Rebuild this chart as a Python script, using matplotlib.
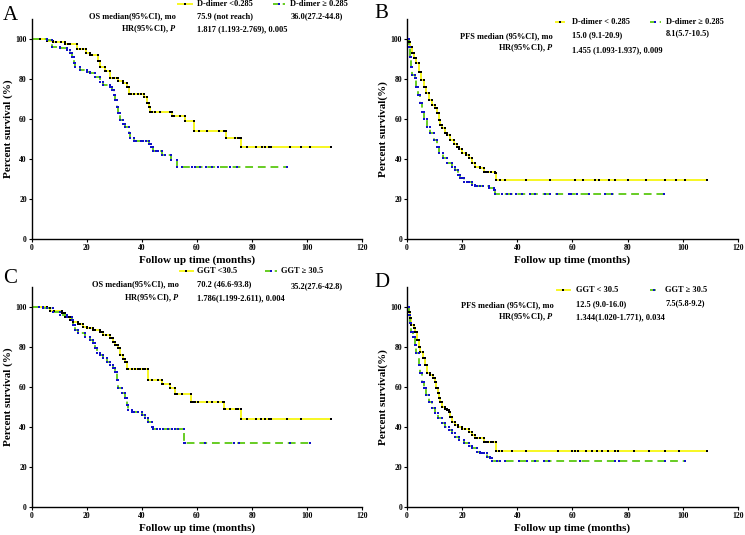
import numpy as np
import matplotlib
matplotlib.use("Agg")
import matplotlib.pyplot as plt

plt.rcParams['font.family'] = ['Liberation Serif', 'DejaVu Serif']
plt.rcParams['font.weight'] = 'bold'
plt.rcParams['mathtext.fontset'] = 'custom'
plt.rcParams['mathtext.it'] = 'Liberation Serif:italic:bold'
plt.rcParams['mathtext.rm'] = 'Liberation Serif:bold'

# ---- data (months, percent survival) ----
# Panel A: OS by D-dimer
a_low_t = [0, 5.5, 7.9, 12.1, 16.4, 19.8, 21.2, 23.9, 24.8, 26.7, 28.5, 31.5, 33, 34.5, 35.2,
           40.8, 41.8, 42.4, 43, 50.9, 55.8, 58.8, 70.7, 76]
a_low_s = [100, 99.2, 98.3, 97.5, 95, 93, 92, 89, 86, 84, 80.5, 79, 78, 76, 72.5,
           71, 68, 66, 63.5, 61.5, 59, 54, 50.5, 46]
a_low_end = 108.6
a_low_cens = [3, 9, 10.5, 13, 14, 17.5, 18.5, 22, 27, 29.5, 30, 31, 36, 37, 38.5, 39.5,
              43.6, 44.8, 46.4, 50.3, 51.5, 53.9, 60.6, 63.6, 67.9, 69.7, 73.9, 74.8, 75.5,
              78, 81.4, 83.5, 84.7, 86.2, 86.7, 93.7, 97.6, 101, 108.6]
a_high_t = [0, 5.5, 7.3, 10.3, 12.7, 14, 14.5, 15.2, 15.8, 17.6, 20, 21.2, 23, 24.8, 26, 28.5,
            29.1, 30, 30.3, 30.9, 31.5, 32.1, 33.1, 33.9, 35.2, 35.8, 37, 42.4, 43.3, 44,
            47.3, 50.5, 52.7]
a_high_s = [100, 99.5, 96.2, 95.7, 94.5, 92.8, 91.2, 87.9, 86.2, 84.5, 83.7, 82.9, 80.9, 78.7,
            77, 76.2, 74.5, 72, 69.5, 66.2, 62.9, 59.6, 57.6, 56.2, 52.9, 50.4, 49.3, 47.6,
            46.3, 44.3, 42.1, 39.6, 36.3]
a_high_end = 92.5
a_high_cens = [38, 39.5, 40.5, 41.5, 45, 46, 48.5, 54.5, 58, 59.3, 61.2, 63.2, 65.5, 67.5,
               72, 74.4, 92.5]

# Panel B: PFS by D-dimer
b_low_t = [0, 0.6, 1.2, 1.8, 2.4, 3.3, 4.2, 5.2, 6, 6.9, 7.9, 9.1, 10.3, 10.9, 11.5, 12.1,
           12.7, 13.7, 14.5, 15.7, 16.9, 18.1, 19, 20, 21.4, 22.4, 23.6, 24.8, 26.6, 27.8,
           31.8, 32.3]
b_low_s = [100, 98.7, 96.2, 92.8, 90.3, 87.9, 83.7, 79.5, 76.2, 72.9, 69.5, 67, 65.4, 62.9,
           59.6, 57.1, 55.4, 53.2, 52.1, 49.6, 47.6, 46.3, 45, 43.3, 42.1, 40.4, 37.9, 36.3,
           35.4, 33.8, 32.9, 29.6]
b_low_end = 108.8
b_low_cens = [28.5, 29.5, 30.3, 33.9, 35.7, 43.2, 52, 60.8, 63.7, 68.3, 69.8, 73.4, 75.3,
              80.2, 86.7, 93.7, 97.6, 101, 108.8]
b_high_t = [0, 0.6, 1, 1.3, 1.8, 2.8, 3.4, 4, 4.8, 5.4, 6, 7.3, 8.5, 9.7, 10.9, 11.7, 12.9,
            14.5, 16.3, 17.5, 18.5, 19.3, 20.6, 21.8, 23.6, 24.8, 29.6, 31.4, 32]
b_high_s = [100, 96.2, 91.2, 86.2, 82, 80.4, 76.2, 72, 67.9, 63.7, 59.9, 56.2, 52.9, 49.6,
            46.3, 42.9, 40.4, 37.9, 36.3, 34.6, 32.1, 30.4, 28.8, 28.5, 27.1, 26.6, 25.5,
            24.6, 22.6]
b_high_end = 93.1
b_high_cens = [20, 22.5, 25.5, 26.5, 27.5, 34.5, 36.3, 37.8, 39.5, 41.7, 44.7, 46.6, 50, 52,
               54.4, 58.7, 59.6, 61.7, 65.9, 71.9, 74.4, 93.1]

# Panel C: OS by GGT
c_low_t = [0, 5.4, 6.6, 10.9, 12.1, 13.9, 15.1, 16.9, 18.7, 20, 22.4, 24.8, 26, 28.4, 29.6,
           30.2, 31.4, 32, 33, 33.9, 34.5, 42.3, 47.2, 50.2, 52, 57.8, 69.9, 75.8]
c_low_s = [100, 99.5, 98, 96.7, 95, 93.4, 92.2, 91.2, 90, 89.2, 88.4, 87.5, 85.9, 84.2, 82.6,
           80.9, 79.2, 75.9, 73.9, 72.6, 68.8, 63.5, 61.3, 59.3, 56.3, 52.3, 48.8, 43.9]
c_low_end = 108.6
c_low_cens = [2.5, 8, 11.5, 13, 14.5, 17.5, 21, 23, 25.5, 27, 29, 31, 35.1, 36.3, 37.5, 38.7,
              39.3, 40.3, 41.1, 43.5, 46, 47.8, 52.6, 54.7, 57.7, 58.6, 59.2, 60.4, 63.5,
              65.5, 67.7, 69.3, 70.1, 71.9, 74.1, 75, 78, 81.4, 83.4, 84.6, 86.2, 86.7, 92.5,
              97.6, 108.6]
c_high_t = [0, 4.2, 7.9, 10.3, 12.7, 14.5, 15.1, 15.7, 16.9, 19.3, 21.2, 22.4, 23, 23.6, 24.8,
            26, 27.2, 28.4, 29.6, 30.2, 30.8, 31.4, 32.6, 33.9, 34.5, 35.1, 36.3, 39.9, 41.1,
            42.3, 43.5, 44.1, 55.3]
c_high_s = [100, 99.5, 97.5, 95.8, 95, 93.4, 90.9, 88.4, 86.7, 85, 83.4, 81.7, 79.2, 76.7,
            75.9, 74.3, 72.6, 70.9, 69.3, 67.6, 63.5, 59.3, 56.8, 54.3, 51, 48.5, 47.7, 46,
            44.4, 42.7, 40.2, 38.9, 32.2]
c_high_end = 101
c_high_cens = [2.5, 5.5, 37, 38.5, 45.3, 46.6, 47.8, 49.6, 50.8, 52, 53.2, 55.6, 62.9, 73.4,
               75.3, 93.7, 101]

# Panel D: PFS by GGT
d_low_t = [0, 0.6, 1, 1.6, 2.4, 3, 3.6, 4.2, 4.8, 5.7, 6.4, 7.3, 8.5, 9.3, 10, 10.5, 11.1,
           11.5, 12.1, 12.7, 13.7, 14.5, 15.4, 15.7, 16.3, 17.3, 18.5, 20, 22.6, 23.6, 24.8,
           27.8, 32.3]
d_low_s = [100, 97.5, 94.2, 90.9, 89.5, 87.5, 83.4, 80.1, 77.2, 74.3, 70.9, 66.8, 65.9, 64.6,
           62.6, 59.3, 56.8, 54.3, 52.6, 50.2, 49, 48.5, 47.7, 45.2, 42.7, 41, 39.9, 38.9,
           37.7, 36, 34.4, 32.7, 28.1]
d_low_end = 108.8
d_low_cens = [21, 25.5, 26.5, 28.5, 29.5, 30.5, 31.2, 33.3, 34.5, 38.1, 43.3, 54.8, 59.9,
              60.8, 62, 64.9, 67.1, 68.9, 70.7, 73.1, 75.3, 76.5, 82.2, 87.7, 93.7, 98.6, 108.8]
d_high_t = [0, 0.6, 1, 1.6, 2.3, 2.8, 3.4, 4.2, 4.8, 5.4, 6, 6.9, 7.9, 9.1, 10.3, 11.2, 12.7,
            13.9, 15.4, 16.3, 17.5, 19, 20.6, 22.4, 23.6, 25.4, 26.6, 29, 30.2, 30.8]
d_high_s = [100, 95.8, 91.7, 87.5, 85, 80.9, 76.7, 70.9, 66.8, 62.6, 59.3, 56, 52.7, 49.3,
            46.8, 44.4, 41.9, 39.9, 38.5, 36.9, 35.2, 33.6, 31.9, 30.6, 29.4, 27.7, 26.9,
            25.2, 24.4, 23.1]
d_high_end = 101
d_high_cens = [27.2, 27.8, 32.6, 33.9, 35.7, 40.5, 43.5, 46.6, 49.6, 51.4, 62.9, 75.6, 76.8,
               93.7, 101]

YELLOW = '#f7f722'
GREEN = '#66cc22'
BLUE = '#1010c8'


def km(ax, t, s, t_end, cens, color, mcolor, dashed):
    x = list(t) + [t_end]
    y = list(s) + [s[-1]]
    ls = (0, (4, 2.5)) if dashed else '-'
    ax.plot(x, y, drawstyle='steps-post', color=color, lw=1.4, ls=ls, zorder=2)
    # marks at both corners of each step
    mx, my = [], []
    for i in range(1, len(t)):
        mx += [t[i], t[i]]
        my += [s[i - 1], s[i]]
    t_arr = np.array(t)
    for c in cens:
        k = np.searchsorted(t_arr, c, side='right') - 1
        mx.append(c)
        my.append(s[k])
    ax.plot(mx, my, ls='none', marker='s', ms=1.8, mew=0, color=mcolor, zorder=3)


def style(ax, ylab):
    ax.set_xlim(0, 120)
    ax.set_ylim(0, 110)
    ax.set_xticks(range(0, 121, 20))
    ax.set_yticks(range(0, 101, 20))
    for sp in ['top', 'right']:
        ax.spines[sp].set_visible(False)
    for sp in ['left', 'bottom']:
        ax.spines[sp].set_linewidth(1.0)
    ax.tick_params(labelsize=5.5, length=2, width=0.8, pad=1.5)
    for lab in ax.get_xticklabels() + ax.get_yticklabels():
        lab.set_fontweight('bold')
    ax.set_xlabel('Follow up time (months)', fontsize=8, fontweight='bold', labelpad=2)
    ax.set_ylabel(ylab, fontsize=8, fontweight='bold', labelpad=2)


def legend_items(ax, y, x1a, x1b, lab1, x2a, x2b, lab2, lx1, lx2):
    ax.plot([x1a, x1b], [y, y], color=YELLOW, lw=1.4, clip_on=False)
    ax.plot([(x1a + x1b) / 2], [y], marker='s', ms=1.8, mew=0, color='black', clip_on=False)
    ax.plot([x2a, x2b], [y, y], color=GREEN, lw=1.4, ls=(0, (3, 2)), clip_on=False)
    ax.plot([(x2a + x2b) / 2], [y], marker='s', ms=1.8, mew=0, color=BLUE, clip_on=False)
    ax.text(lx1, y, lab1, fontsize=6, va='center', ha='left')
    ax.text(lx2, y, lab2, fontsize=6, va='center', ha='left')


fig = plt.figure(figsize=(7.45, 5.35), dpi=100)
axA = fig.add_axes([0.04255, 0.5527, 0.4438, 0.4118])
axB = fig.add_axes([0.5463, 0.5527, 0.4440, 0.4118])
axC = fig.add_axes([0.04255, 0.0518, 0.4438, 0.4125])
axD = fig.add_axes([0.5463, 0.0518, 0.4440, 0.4125])

# A
km(axA, a_low_t, a_low_s, a_low_end, a_low_cens, YELLOW, 'black', False)
km(axA, a_high_t, a_high_s, a_high_end, a_high_cens, GREEN, BLUE, True)
style(axA, 'Percent survival (%)')
legend_items(axA, 117.5, 53.1, 58.2, 'D-dimer <0.285', 87.6, 91.9, 'D-dimer \u2265 0.285', 60, 93.8)
axA.text(52.4, 111.5, 'OS median(95%CI), mo', fontsize=6, ha='right', va='center')
axA.text(60, 111.5, '75.9 (not reach)', fontsize=6, va='center')
axA.text(93.8, 111.5, '36.0(27.2-44.8)', fontsize=6, va='center')
axA.text(52.4, 105, r'HR(95%CI), $\mathit{P}$', fontsize=6, ha='right', va='center')
axA.text(60, 105, '1.817 (1.193-2.769), 0.005', fontsize=6, va='center')

# B
km(axB, b_low_t, b_low_s, b_low_end, b_low_cens, YELLOW, 'black', False)
km(axB, b_high_t, b_high_s, b_high_end, b_high_cens, GREEN, BLUE, True)
style(axB, 'Percent survival(%)')
legend_items(axB, 108.6, 54, 57, 'D-dimer < 0.285', 88.1, 92.1, 'D-dimer \u2265 0.285', 59.8, 93.9)
axB.text(53, 101.5, 'PFS median (95%CI), mo', fontsize=6, ha='right', va='center')
axB.text(59.8, 102, '15.0 (9.1-20.9)', fontsize=6, va='center')
axB.text(93.9, 103, '8.1(5.7-10.5)', fontsize=6, va='center')
axB.text(53, 95.2, r'HR(95%CI), $\mathit{P}$', fontsize=6, ha='right', va='center')
axB.text(59.8, 94.6, '1.455 (1.093-1.937), 0.009', fontsize=6, va='center')

# C
km(axC, c_low_t, c_low_s, c_low_end, c_low_cens, YELLOW, 'black', False)
km(axC, c_high_t, c_high_s, c_high_end, c_high_cens, GREEN, BLUE, True)
style(axC, 'Percent survival (%)')
legend_items(axC, 117.8, 53.8, 58.5, 'GGT <30.5', 84.7, 89, 'GGT \u2265 30.5', 60, 90.5)
axC.text(53.5, 111.3, 'OS median(95%CI), mo', fontsize=6, ha='right', va='center')
axC.text(60, 111.3, '70.2 (46.6-93.8)', fontsize=6, va='center')
axC.text(93.8, 110.3, '35.2(27.6-42.8)', fontsize=6, va='center')
axC.text(53.5, 104.3, r'HR(95%CI), $\mathit{P}$', fontsize=6, ha='right', va='center')
axC.text(60, 104.3, '1.786(1.199-2.611), 0.004', fontsize=6, va='center')

# D
km(axD, d_low_t, d_low_s, d_low_end, d_low_cens, YELLOW, 'black', False)
km(axD, d_high_t, d_high_s, d_high_end, d_high_cens, GREEN, BLUE, True)
style(axD, 'Percent survival(%)')
legend_items(axD, 108.3, 54.4, 59.1, 'GGT < 30.5', 88.1, 91.4, 'GGT \u2265 30.5', 61.3, 93.6)
axD.text(53.3, 100.9, 'PFS median (95%CI), mo', fontsize=6, ha='right', va='center')
axD.text(61.3, 101.4, '12.5 (9.0-16.0)', fontsize=6, va='center')
axD.text(93.6, 101.8, '7.5(5.8-9.2)', fontsize=6, va='center')
axD.text(53.3, 94.9, r'HR(95%CI), $\mathit{P}$', fontsize=6, ha='right', va='center')
axD.text(61.3, 94.9, '1.344(1.020-1.771), 0.034', fontsize=6, va='center')

# panel letters
for x, y, letter in [(0.004, 0.9626, 'A'), (0.503, 0.966, 'B'),
                     (0.004, 0.471, 'C'), (0.503, 0.4636, 'D')]:
    fig.text(x, y, letter, fontsize=15, fontweight='normal', va='baseline', ha='left')

fig.savefig('out.png', dpi=100)
